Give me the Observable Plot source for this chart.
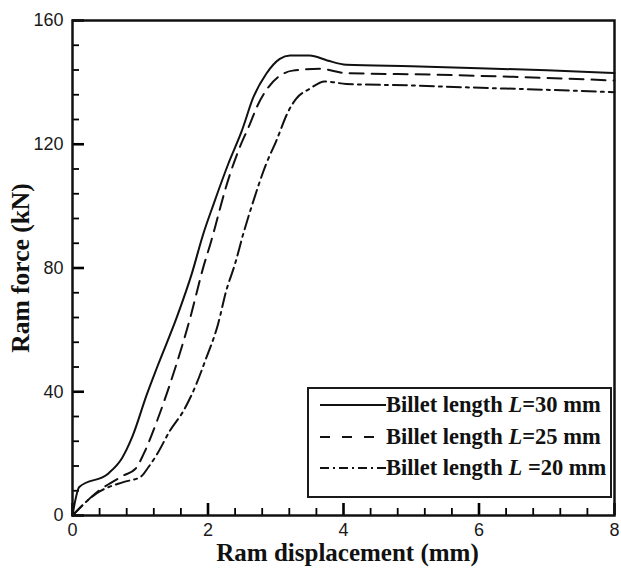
<!DOCTYPE html>
<html><head><meta charset="utf-8">
<script src="https://cdn.jsdelivr.net/npm/d3@7"></script>
<script src="https://cdn.jsdelivr.net/npm/@observablehq/plot@0.6"></script>
<style>
body{margin:0;background:#fff;}
#wrap{position:relative;width:621px;height:569px;}
.legend{position:absolute;left:307px;top:387px;width:301px;height:107px;border:2px solid #1a1a1a;background:#fff;font-family:"Liberation Serif";font-weight:bold;font-size:22.5px;color:#111;}
.row{position:absolute;left:11px;height:26px;display:flex;align-items:center;white-space:nowrap;}
.row svg{display:block;}
</style></head>
<body><div id="wrap"></div>
<script>
// ---- data ----
const xMajor = [0, 2, 4, 6, 8];
const xMinor = [0.4, 0.8, 1.2, 1.6, 2.4, 2.8, 3.2, 3.6, 4.4, 4.8, 5.2, 5.6, 6.4, 6.8, 7.2, 7.6];
const yMajor = [0, 40, 80, 120, 160];
const yMinor = [8, 16, 24, 32, 48, 56, 64, 72, 88, 96, 104, 112, 128, 136, 144, 152];

const x30 = [0, 0.1, 0.53, 0.73, 0.88, 1.1, 1.25, 1.54, 1.76, 1.93, 2.08, 2.3, 2.5, 2.67, 2.86, 3.06, 3.21, 3.5, 3.76, 4.04, 5.0, 6.0, 7.0, 8.0];
const y30 = [0, 9.2, 13.6, 18.5, 25.3, 39.3, 48, 64.1, 78.1, 91, 100.5, 113.7, 124.4, 135.2, 142.8, 147.6, 148.7, 148.7, 147.1, 145.7, 145.2, 144.6, 143.9, 143.0];

const x25 = [0, 0.36, 0.75, 0.93, 1.05, 1.25, 1.39, 1.52, 1.74, 1.93, 2.05, 2.17, 2.25, 2.45, 2.62, 2.72, 2.89, 3.11, 3.25, 3.65, 4.04, 5.3, 6.5, 8.0];
const y25 = [0, 7.5, 12.9, 15.1, 19.9, 30.7, 39.3, 47.9, 64.1, 80.2, 88.9, 98.6, 105, 118, 126.6, 132, 138.4, 142.8, 143.8, 144.4, 143, 142.5, 141.8, 140.6];

const x20 = [0, 0.17, 0.36, 0.75, 1.0, 1.12, 1.25, 1.44, 1.64, 1.83, 1.95, 2.15, 2.27, 2.40, 2.52, 2.64, 2.86, 3.01, 3.18, 3.30, 3.5, 3.72, 4.04, 5.0, 5.8, 7.0, 8.0];
const y20 = [0, 3.8, 7.2, 10.8, 12.4, 15.6, 19.9, 27.5, 33.9, 42.6, 49.5, 62, 72.7, 81.4, 91, 99.6, 113.7, 121.2, 130.4, 134.7, 137.9, 140.3, 139.5, 139.0, 138.4, 137.6, 136.8];

const seriesNames = ["L=30", "L=25", "L=20"];
const legendSuffix = ["=30 mm", "=25 mm", " =20 mm"];
const dashes = [null, "14,8", "14,5,3,5"];
const legendDashes = [null, "10,12", "9,4,2,4"];

// ---- build ----
const seriesX = [x30, x25, x20];
const seriesY = [y30, y25, y20];
const lines = seriesX.map((xs, s) => Plot.line(xs.map((x, i) => ({x, y: seriesY[s][i]})), {
  x: "x", y: "y", stroke: "#111", strokeWidth: 2, strokeDasharray: dashes[s], curve: "monotone-x"
}));

const plot = Plot.plot({
  width: 621, height: 569,
  marginLeft: 72, marginRight: 7, marginTop: 20, marginBottom: 54,
  x: {domain: [0, 8]},
  y: {domain: [0, 160]},
  style: {fontFamily: "Liberation Sans", fontSize: "18px", color: "#1a1a1a", background: "#fff"},
  marks: [
    // inward tick marks (ticks shifted inside the frame, no labels)
    Plot.axisX({ticks: xMajor, tickSize: 12, dy: -12, text: null, stroke: "#000", strokeWidth: 2.6, label: null}),
    Plot.axisX({ticks: xMinor, tickSize: 7, dy: -7, text: null, stroke: "#000", strokeWidth: 1.8, label: null}),
    Plot.axisY({ticks: yMajor, tickSize: 12, dx: 12, text: null, stroke: "#000", strokeWidth: 2.6, label: null}),
    Plot.axisY({ticks: yMinor, tickSize: 7, dx: 7, text: null, stroke: "#000", strokeWidth: 1.8, label: null}),
    // labels only
    Plot.axisX({ticks: xMajor, tickSize: 0, tickPadding: 8, tickFormat: d => String(d), label: null}),
    Plot.axisY({ticks: yMajor, tickSize: 0, tickPadding: 9, tickFormat: d => String(d), label: null}),
    ...lines,
    Plot.frame({stroke: "#111", strokeWidth: 2.5}),
    Plot.text(["Ram displacement (mm)"], {text: d => d, frameAnchor: "bottom", textAnchor: "middle", dy: 37, dx: 4, lineAnchor: "middle",
      fontFamily: "Liberation Serif", fontWeight: "bold", fontSize: 25, fill: "#111"}),
    Plot.text(["Ram force (kN)"], {text: d => d, frameAnchor: "left", textAnchor: "middle", dx: -52, rotate: -90, lineAnchor: "middle",
      fontFamily: "Liberation Serif", fontWeight: "bold", fontSize: 25.5, fill: "#111"})
  ]
});

const wrap = document.getElementById("wrap");
wrap.appendChild(plot);

// legend
const leg = document.createElement("div");
leg.className = "legend";
const rowTops = [3, 35, 66];
seriesNames.forEach((n, i) => {
  const row = document.createElement("div");
  row.className = "row";
  row.style.top = rowTops[i] + "px";
  const svgNS = "http://www.w3.org/2000/svg";
  const sv = document.createElementNS(svgNS, "svg");
  sv.setAttribute("width", 66); sv.setAttribute("height", 26);
  const ln = document.createElementNS(svgNS, "line");
  ln.setAttribute("x1", 0); ln.setAttribute("x2", 66); ln.setAttribute("y1", 13); ln.setAttribute("y2", 13);
  ln.setAttribute("stroke", "#111"); ln.setAttribute("stroke-width", 2);
  if (legendDashes[i]) ln.setAttribute("stroke-dasharray", legendDashes[i]);
  sv.appendChild(ln);
  row.appendChild(sv);
  const t = document.createElement("span");
  t.innerHTML = "Billet length <i>L</i>" + legendSuffix[i].replace(" ", "&nbsp;");
  row.appendChild(t);
  leg.appendChild(row);
});
wrap.appendChild(leg);
</script>
</body></html>
